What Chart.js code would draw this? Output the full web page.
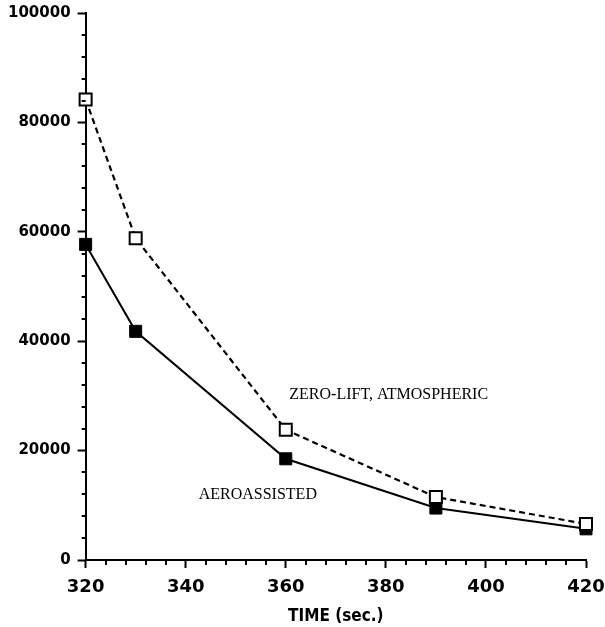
<!DOCTYPE html>
<html>
<head>
<meta charset="utf-8">
<script src="https://cdn.jsdelivr.net/npm/chart.js@4/dist/chart.umd.min.js"></script>
<style>
  html, body { margin: 0; padding: 0; background: #fff; }
  #wrap { width: 605px; height: 627px; }
</style>
</head>
<body>
<div id="wrap"><canvas id="chart"></canvas></div>
<script>
const timeSec = [320, 330, 360, 390, 420];
const zeroLift = [84200, 58800, 23800, 11500, 6600];
const aeroassisted = [57700, 41800, 18500, 9500, 5700];

const xRange = [320, 420];
const xMinorStep = 4;
const xMajorStep = 20;
const yRange = [0, 100000];
const yMinorStep = 4000;
const yMajorStep = 20000;

const xTitle = 'TIME (sec.)';
const zeroLiftLabel = 'ZERO-LIFT, ATMOSPHERIC';
const aeroLabel = 'AEROASSISTED';
// where the two curve labels sit, in data units (left edge, baseline)
const zeroLiftLabelAt = { x: 360.7, y: 29500 };
const aeroLabelAt = { x: 342.6, y: 11200 };

const ctx = document.getElementById('chart').getContext('2d');

function pairs(ys) {
  return timeSec.map((t, i) => ({ x: t, y: ys[i] }));
}

function isMajor(value, step) {
  return Math.abs(value / step - Math.round(value / step)) < 1e-6;
}

// short minor ticks plus the two text labels inside the plot
const extras = {
  id: 'extras',
  afterDraw(chart) {
    const { ctx, scales: { x, y } } = chart;
    ctx.save();
    ctx.strokeStyle = '#000';
    ctx.lineWidth = 2;
    ctx.beginPath();
    for (let v = xRange[0]; v <= xRange[1]; v += xMinorStep) {
      if (isMajor(v, xMajorStep)) continue;
      const px = Math.round(x.getPixelForValue(v));
      ctx.moveTo(px, y.bottom);
      ctx.lineTo(px, y.bottom + 5);
    }
    for (let v = yRange[0]; v <= yRange[1]; v += yMinorStep) {
      if (isMajor(v, yMajorStep)) continue;
      const py = Math.round(y.getPixelForValue(v));
      ctx.moveTo(x.left, py);
      ctx.lineTo(x.left - 4, py);
    }
    ctx.stroke();

    ctx.fillStyle = '#000';
    ctx.font = '16px "Liberation Serif", serif';
    ctx.textAlign = 'left';
    ctx.textBaseline = 'alphabetic';
    ctx.fillText(zeroLiftLabel, x.getPixelForValue(zeroLiftLabelAt.x), y.getPixelForValue(zeroLiftLabelAt.y));
    ctx.fillText(aeroLabel, x.getPixelForValue(aeroLabelAt.x), y.getPixelForValue(aeroLabelAt.y));
    ctx.restore();
  }
};

new Chart(ctx, {
  type: 'line',
  data: {
    datasets: [{
      label: zeroLiftLabel,
      data: pairs(zeroLift),
      borderColor: '#000',
      borderWidth: 2.2,
      borderDash: [6, 4],
      pointStyle: 'rect',
      pointRadius: 8.5,
      pointBorderWidth: 2,
      pointBackgroundColor: '#fff',
      pointBorderColor: '#000',
      tension: 0,
      clip: false,
      order: 1
    }, {
      label: aeroLabel,
      data: pairs(aeroassisted),
      borderColor: '#000',
      borderWidth: 2,
      pointStyle: 'rect',
      pointRadius: 8.5,
      pointBorderWidth: 1,
      pointBackgroundColor: '#000',
      pointBorderColor: '#000',
      tension: 0,
      clip: false,
      order: 2
    }]
  },
  options: {
    responsive: true,
    maintainAspectRatio: false,
    animation: false,
    layout: { padding: { top: 0, right: 0, bottom: 0, left: 1 } },
    plugins: {
      legend: { display: false },
      tooltip: { enabled: false }
    },
    scales: {
      x: {
        type: 'linear',
        min: xRange[0],
        max: xRange[1],
        // room for the half of "420" that hangs past the axis end
        afterFit: s => { s.paddingRight = 19; },
        border: { color: '#000', width: 2 },
        grid: {
          drawOnChartArea: false,
          tickLength: 8,
          tickWidth: 2,
          tickColor: c => isMajor(c.tick.value, xMajorStep) ? '#000' : 'rgba(0,0,0,0)'
        },
        ticks: {
          stepSize: xMinorStep,
          autoSkip: false,
          maxRotation: 0,
          padding: 9,
          color: '#000',
          font: { family: 'DejaVu Sans', size: 18, weight: 'bold' },
          callback: v => isMajor(v, xMajorStep) ? String(v) : ''
        },
        title: {
          display: true,
          text: xTitle,
          color: '#000',
          padding: { top: -1, bottom: 0 },
          font: { family: 'DejaVu Sans Condensed', size: 17, weight: 'bold' }
        }
      },
      y: {
        min: yRange[0],
        max: yRange[1],
        afterFit: s => { s.paddingTop = 13; },
        border: { color: '#000', width: 2 },
        grid: {
          drawOnChartArea: false,
          tickLength: 8,
          tickWidth: 2,
          tickColor: c => isMajor(c.tick.value, yMajorStep) ? '#000' : 'rgba(0,0,0,0)'
        },
        ticks: {
          stepSize: yMinorStep,
          autoSkip: false,
          padding: 7,
          color: '#000',
          font: { family: 'DejaVu Sans', size: 15, weight: 'bold' },
          callback: v => isMajor(v, yMajorStep) ? String(v) : ''
        }
      }
    }
  },
  plugins: [extras]
});
</script>
</body>
</html>
